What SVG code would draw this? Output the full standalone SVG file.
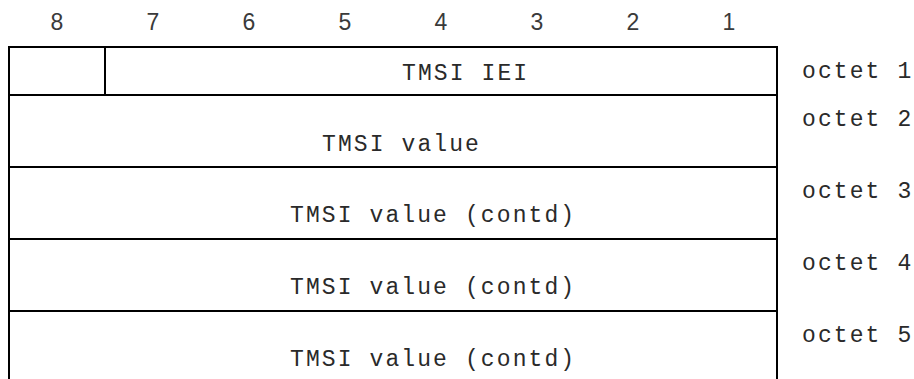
<svg xmlns="http://www.w3.org/2000/svg" width="914" height="379" viewBox="0 0 914 379">
<style>
.bit{font-family:"Liberation Sans",Arial,sans-serif;font-size:23px;fill:#3a3a3a;text-anchor:middle}
.t{font-family:"Liberation Mono","Courier New",monospace;font-size:23px;letter-spacing:2.1px;fill:#2a2a2a}
.ln{stroke:#000;stroke-width:2;fill:none}
</style>
<rect width="914" height="379" fill="#fff"/>
<g id="header">
<text class="bit" x="57" y="30">8</text>
<text class="bit" x="153" y="30">7</text>
<text class="bit" x="249" y="30">6</text>
<text class="bit" x="345" y="30">5</text>
<text class="bit" x="441" y="30">4</text>
<text class="bit" x="537" y="30">3</text>
<text class="bit" x="633" y="30">2</text>
<text class="bit" x="729" y="30">1</text>
</g>
<g id="frame">
<path class="ln" d="M9,379 V47 H777 V379"/>
<line class="ln" x1="105" y1="47" x2="105" y2="95"/>
<line class="ln" x1="9" y1="95" x2="777" y2="95"/>
<line class="ln" x1="9" y1="167" x2="777" y2="167"/>
<line class="ln" x1="9" y1="239" x2="777" y2="239"/>
<line class="ln" x1="9" y1="311" x2="777" y2="311"/>
</g>
<g id="octet1">
<text class="t" x="402" y="80">TMSI IEI</text>
<text class="t" x="802" y="78">octet 1</text>
</g>
<g id="octet2">
<text class="t" x="322" y="151">TMSI value</text>
<text class="t" x="802" y="126">octet 2</text>
</g>
<g id="octet3">
<text class="t" x="290" y="222">TMSI value (contd)</text>
<text class="t" x="802" y="198">octet 3</text>
</g>
<g id="octet4">
<text class="t" x="290" y="294">TMSI value (contd)</text>
<text class="t" x="802" y="270">octet 4</text>
</g>
<g id="octet5">
<text class="t" x="290" y="366">TMSI value (contd)</text>
<text class="t" x="802" y="342">octet 5</text>
</g>
</svg>
